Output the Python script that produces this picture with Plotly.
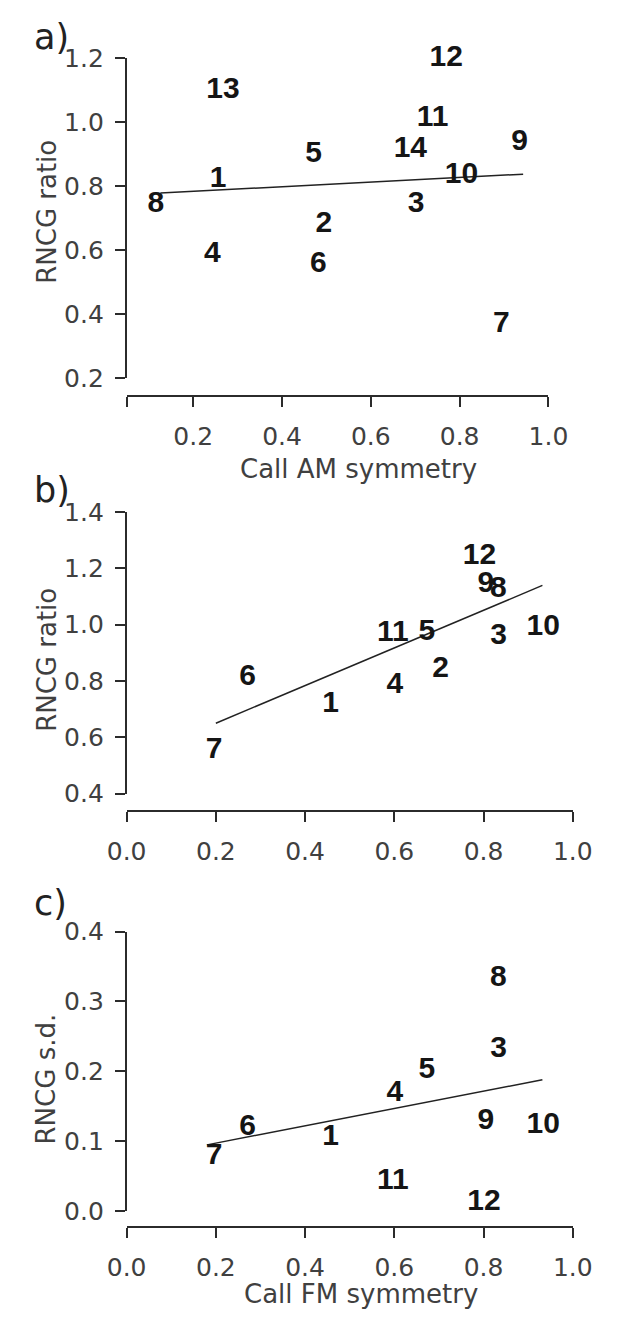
import plotly.graph_objects as go

W, H = 618, 1330

# ---------------- data ----------------
# panel a: Call AM symmetry vs RNCG ratio
a_ids = ["13", "12", "11", "14", "9", "5", "1", "10", "8", "3", "2", "4", "6", "7"]
a_x = [0.267, 0.770, 0.739, 0.689, 0.935, 0.471, 0.256, 0.804, 0.116, 0.702, 0.494, 0.243, 0.482, 0.894]
a_y = [1.099, 1.200, 1.010, 0.914, 0.935, 0.899, 0.819, 0.834, 0.742, 0.742, 0.678, 0.587, 0.555, 0.367]
a_fit_x = [0.126, 0.943]
a_fit_y = [0.778, 0.837]
a_xticks = [0.05, 0.2, 0.4, 0.6, 0.8, 1.0]
a_xticktext = ["", "0.2", "0.4", "0.6", "0.8", "1.0"]
a_yticks = [0.2, 0.4, 0.6, 0.8, 1.0, 1.2]

# panel b: Call FM symmetry vs RNCG ratio
b_ids = ["12", "9", "8", "11", "5", "3", "10", "6", "2", "4", "1", "7"]
b_x = [0.791, 0.805, 0.833, 0.597, 0.673, 0.834, 0.934, 0.271, 0.704, 0.601, 0.457, 0.196]
b_y = [1.240, 1.141, 1.124, 0.969, 0.973, 0.957, 0.990, 0.812, 0.839, 0.783, 0.717, 0.554]
b_fit_x = [0.200, 0.932]
b_fit_y = [0.650, 1.139]
b_xticks = [0.0, 0.2, 0.4, 0.6, 0.8, 1.0]
b_yticks = [0.4, 0.6, 0.8, 1.0, 1.2, 1.4]

# panel c: Call FM symmetry vs RNCG s.d.
c_ids = ["8", "3", "5", "4", "9", "10", "6", "1", "7", "11", "12"]
c_x = [0.833, 0.834, 0.673, 0.601, 0.805, 0.934, 0.271, 0.457, 0.196, 0.597, 0.801]
c_y = [0.333, 0.231, 0.202, 0.169, 0.129, 0.122, 0.120, 0.106, 0.078, 0.043, 0.013]
c_fit_x = [0.180, 0.932]
c_fit_y = [0.095, 0.188]
c_xticks = [0.0, 0.2, 0.4, 0.6, 0.8, 1.0]
c_yticks = [0.0, 0.1, 0.2, 0.3, 0.4]

# ---------------- styling / layout ----------------
NUMFONT = "Liberation Sans, Arial, sans-serif"
FONT = "DejaVu Sans, Liberation Sans, sans-serif"
AXC = "#2b2b2b"
TXC = "#404040"
NUMC = "#151515"
TICKFONT = dict(family=FONT, size=25, color=TXC)

fig = go.Figure()

panels = [
    # ids, x, y, fitx, fity, xticks, xticktext, yticks, xpx(l,r), ypx(top,bottom), xaxis y px
    (a_ids, a_x, a_y, a_fit_x, a_fit_y, a_xticks, a_xticktext, a_yticks, (114, 565), (45, 372), 391),
    (b_ids, b_x, b_y, b_fit_x, b_fit_y, b_xticks, None, b_yticks, (114, 591), (509, 797), 815),
    (c_ids, c_x, c_y, c_fit_x, c_fit_y, c_xticks, None, c_yticks, (114, 591), (938, 1224), 1240),
]

for i, (ids, xs, ys, fx, fy, xt, xtt, yt, xpx, ypx, xaxpx) in enumerate(panels, start=1):
    xa = "x" if i == 1 else f"x{i}"
    ya = "y" if i == 1 else f"y{i}"
    fig.add_trace(go.Scatter(
        x=fx, y=fy, mode="lines", xaxis=xa, yaxis=ya,
        line=dict(color="#222222", width=1.5), showlegend=False, hoverinfo="skip",
        cliponaxis=False,
    ))
    fig.add_trace(go.Scatter(
        x=xs, y=ys, text=ids, mode="text", xaxis=xa, yaxis=ya,
        textposition="middle center",
        textfont=dict(family=NUMFONT, size=30, color=NUMC, weight="bold"),
        showlegend=False, cliponaxis=False,
    ))
    xkey = "xaxis" if i == 1 else f"xaxis{i}"
    ykey = "yaxis" if i == 1 else f"yaxis{i}"
    fig.layout[xkey] = dict(
        domain=[xpx[0] / W, xpx[1] / W],
        range=[xt[0], xt[-1]],
        anchor="free", position=1 - xaxpx / H,
        showline=True, linecolor=AXC, linewidth=1.6,
        ticks="outside", ticklen=10, tickwidth=1.6, tickcolor=AXC,
        tickmode="array", tickvals=xt,
        ticktext=xtt if xtt is not None else [f"{v:.1f}" for v in xt],
        tickfont=TICKFONT, ticklabelstandoff=8,
        showgrid=False, zeroline=False,
    )
    fig.layout[ykey] = dict(
        domain=[1 - ypx[1] / H, 1 - ypx[0] / H],
        range=[yt[0], yt[-1]],
        anchor=xa,
        showline=True, linecolor=AXC, linewidth=1.6,
        ticks="outside", ticklen=10, tickwidth=1.6, tickcolor=AXC,
        tickmode="array", tickvals=yt, ticktext=[f"{v:.1f}" for v in yt],
        tickfont=TICKFONT, ticklabelstandoff=6,
        showgrid=False, zeroline=False,
    )

anns = []
for t, cx, cy in [("a)", 13, 24), ("b)", 13, 487), ("c)", 13, 909)]:
    anns.append(dict(text=t, x=cx / W, y=1 - cy / H, xref="paper", yref="paper",
                     xanchor="left", yanchor="middle", showarrow=False,
                     font=dict(family=FONT, size=35, color="#222222")))

for t, cy in [("RNCG ratio", 202), ("RNCG ratio", 660), ("RNCG s.d.", 1089)]:
    anns.append(dict(text=t, x=28 / W, y=1 - cy / H, xref="paper", yref="paper",
                     xanchor="center", yanchor="middle", textangle=-90, showarrow=False,
                     font=dict(family=FONT, size=26, color=TXC)))

for t, cx, cy in [("Call AM symmetry", 362, 465), ("Call FM symmetry", 365, 1309)]:
    anns.append(dict(text=t, x=cx / W, y=1 - cy / H, xref="paper", yref="paper",
                     xanchor="center", yanchor="middle", showarrow=False,
                     font=dict(family=FONT, size=26, color=TXC)))

fig.update_layout(
    width=W, height=H,
    margin=dict(l=0, r=0, t=0, b=0),
    paper_bgcolor="white", plot_bgcolor="white",
    annotations=anns,
    showlegend=False,
)

fig.write_html(
    "out.html",
    config={"displayModeBar": False},
    post_script="document.body.style.margin='0';document.body.style.overflow='hidden';",
)
